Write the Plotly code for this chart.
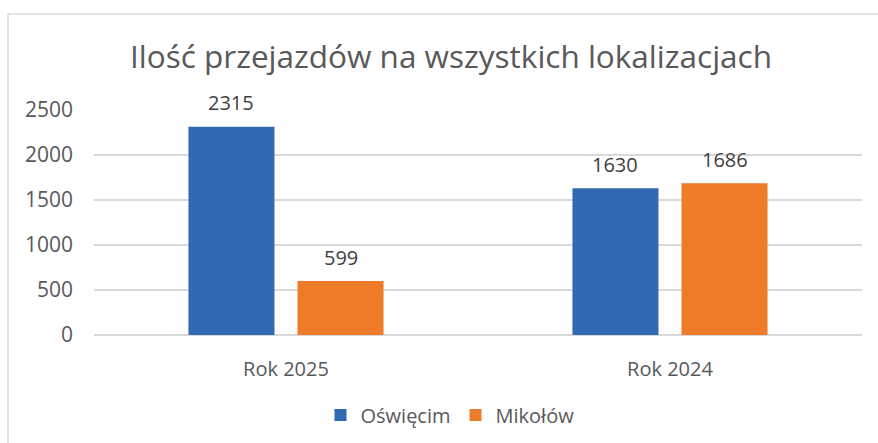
import plotly.graph_objects as go

# Data
categories = ["Rok 2025", "Rok 2024"]
oswiecim = [2315, 1630]
mikolow = [599, 1686]
series_names = ["Oświęcim", "Mikołów"]
y_ticks = [0, 500, 1000, 1500, 2000, 2500]

BLUE = "#3169b2"
ORANGE = "#ed7b27"
GRID = "#d9d9d9"
FONT = "Open Sans"

W, H = 878, 443
M_L, M_R, M_T, M_B = 94, 16, 110, 108
plot_w = W - M_L - M_R
plot_h = H - M_T - M_B

fig = go.Figure()
fig.add_trace(go.Bar(x=categories, y=oswiecim, name=series_names[0],
                     marker=dict(color=BLUE, line=dict(width=0))))
fig.add_trace(go.Bar(x=categories, y=mikolow, name=series_names[1],
                     marker=dict(color=ORANGE, line=dict(width=0))))

# Value labels above bars
cat_w = plot_w / len(categories)
bargap = 0.432
slot = cat_w * (1 - bargap) / 2
for vals, shift in ((oswiecim, -slot / 2), (mikolow, slot / 2)):
    for c, v in zip(categories, vals):
        fig.add_annotation(x=c, y=v, text=str(v), showarrow=False,
                           xshift=shift, yshift=24, yanchor="middle",
                           font=dict(family=FONT, size=20, color="#404040"))

# Chart frame
fig.add_shape(type="rect", xref="paper", yref="paper",
              x0=(8 - M_L) / plot_w, x1=(W + 5 - M_L) / plot_w,
              y0=(M_T + plot_h - (H + 5)) / plot_h, y1=(M_T + plot_h - 14) / plot_h,
              line=dict(color=GRID, width=1.6), fillcolor="rgba(0,0,0,0)", layer="below")

fig.update_layout(
    width=W, height=H,
    margin=dict(l=M_L, r=M_R, t=M_T, b=M_B, autoexpand=False),
    paper_bgcolor="white", plot_bgcolor="white",
    barmode="group", bargap=bargap, bargroupgap=0.211,
    title=dict(text="Ilość przejazdów na wszystkich lokalizacjach",
               x=(451 / W), xanchor="center", y=1 - 57 / H, yanchor="middle",
               font=dict(family=FONT, size=31.5, color="#595959")),
    font=dict(family=FONT, size=20, color="#595959"),
    showlegend=True,
    legend=dict(orientation="h", xref="container", x=450 / W, xanchor="center",
                yref="container", y=1 - 415 / H, yanchor="middle",
                font=dict(family=FONT, size=20, color="#595959"),
                itemwidth=30, tracegroupgap=0, itemsizing="constant"),
    xaxis=dict(showgrid=False, showline=False, ticks="", zeroline=False,
               ticklabelstandoff=20,
               tickfont=dict(family=FONT, size=20, color="#595959")),
    yaxis=dict(range=[0, 2500], tickvals=y_ticks, showgrid=True, gridcolor=GRID,
               gridwidth=1.5, zeroline=True, zerolinecolor=GRID, zerolinewidth=1.5,
               showline=False, ticks="", ticklabelstandoff=20,
               tickfont=dict(family=FONT, size=21, color="#595959")),
)

fig.write_html("out.html")
